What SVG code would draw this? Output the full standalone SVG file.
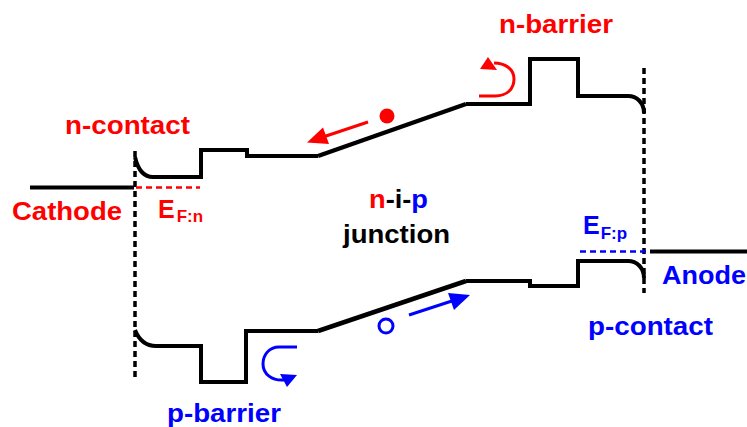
<svg xmlns="http://www.w3.org/2000/svg" width="747" height="427" viewBox="0 0 747 427">
<style>
text{font-family:"Liberation Sans",Arial,sans-serif;font-weight:700;font-size:26px}
.r{fill:#ff0000}.b{fill:#0000ff}.k{fill:#000}
.e{font-size:25px}
.sub{font-size:17px}
.band{fill:none;stroke:#000;stroke-width:4;stroke-linejoin:miter}
.slope{fill:none;stroke:#000;stroke-width:4.500}
.vd{fill:none;stroke:#000;stroke-width:3.500;stroke-dasharray:6 4}
.rl{fill:none;stroke:#ff0000;stroke-width:3}
.bl{fill:none;stroke:#0000ff;stroke-width:3}
.dash{stroke-dasharray:6 4;stroke-width:2.500}
</style>
<g id="connectors">
<path class="vd" d="M135 151V378"/>
<path class="vd" d="M644 68V293"/>
<path class="rl dash" d="M136 187.500H200"/>
<path class="bl dash" d="M580 251.500H648"/>
<path class="rl" d="M368 122L320 138"/>
<path class="r" d="M307 142.500L323 127.500L329 144z"/>
<path class="bl" d="M409 315L458 299"/>
<path class="b" d="M470 295L448 293L454 310z"/>
<path class="rl" d="M479 96H495C507 96 514 89 514 79C514 69 505 63 494 63"/>
<path class="r" d="M480 69L488 57L497 70z"/>
<path class="bl" d="M297 347H279C269 347 263 355 263 364C263 374 272 381 284 380"/>
<path class="b" d="M280 374L297 375L287 387z"/>
</g>
<g id="cathode"><path class="band" d="M30 187.500H134"/><text class="r" x="12" y="220" textLength="110" lengthAdjust="spacingAndGlyphs">Cathode</text></g>
<g id="anode"><path class="band" d="M650 251.500H747"/><text class="b" x="662" y="284" textLength="84" lengthAdjust="spacingAndGlyphs">Anode</text></g>
<g id="conduction-band"><path class="band" d="M135 157C138 170 144 177 153 177H201V150H247V156H318"/><path class="slope" d="M318 156L466 104"/><path class="band" d="M466 104H530V59H578V96H628C637 96 644 103 644 113"/></g>
<g id="valence-band"><path class="band" d="M135 330C139 340 146 346 156 346H201V382H246V331H318"/><path class="slope" d="M318 331L466 281"/><path class="band" d="M466 281H530V286H578V261H628C637 261 644 268 644 278"/></g>
<g id="n-contact"><text class="r" x="65" y="134" textLength="125" lengthAdjust="spacingAndGlyphs">n-contact</text></g>
<g id="n-barrier"><text class="r" x="499" y="33" textLength="114" lengthAdjust="spacingAndGlyphs">n-barrier</text></g>
<g id="p-barrier"><text class="b" x="167" y="422" textLength="114" lengthAdjust="spacingAndGlyphs">p-barrier</text></g>
<g id="p-contact"><text class="b" x="588" y="335" textLength="125" lengthAdjust="spacingAndGlyphs">p-contact</text></g>
<g id="ef-n"><text class="r e" x="158" y="218">E<tspan class="sub" dx="2" dy="4">F:n</tspan></text></g>
<g id="ef-p"><text class="b e" x="583" y="234">E<tspan class="sub" dx="1" dy="5">F:p</tspan></text></g>
<g id="electron"><circle cx="387" cy="116" r="7.500" fill="#ff0000"/></g>
<g id="hole"><circle cx="386" cy="326" r="7" fill="none" stroke="#0000ff" stroke-width="3"/></g>
<g id="junction"><text class="k" x="369" y="208" textLength="59" lengthAdjust="spacingAndGlyphs"><tspan class="r">n</tspan>-i-<tspan class="b">p</tspan></text><text class="k" x="343" y="243" textLength="107" lengthAdjust="spacingAndGlyphs">junction</text></g>
</svg>
